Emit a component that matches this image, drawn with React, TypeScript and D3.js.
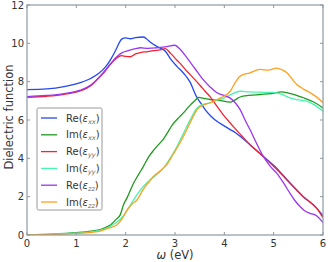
import { useEffect, useRef } from 'react';
import * as d3 from 'd3';

const W = 328;
const H = 262;
const M = { left: 27, right: 5, top: 5, bottom: 27 };

type Pt = [number, number];

// ω (eV) vs value
const reXX: Pt[] = [
  [0, 7.58], [0.4, 7.62], [0.75, 7.74], [1.08, 7.95], [1.3, 8.18], [1.45, 8.42], [1.6, 8.8],
  [1.7, 9.18], [1.8, 9.65], [1.92, 10.22], [2.0, 10.28], [2.1, 10.24], [2.2, 10.3], [2.36, 10.33],
  [2.46, 10.15], [2.56, 9.95], [2.7, 9.75], [2.8, 9.6], [2.92, 9.15], [3.04, 8.8], [3.17, 8.45],
  [3.3, 8.0], [3.44, 7.2], [3.53, 6.85], [3.61, 6.54], [3.73, 6.2], [3.85, 5.93], [3.98, 5.72],
  [4.12, 5.5], [4.22, 5.35], [4.32, 5.15], [4.52, 4.71], [4.79, 4.1], [5.06, 3.49], [5.33, 2.71],
  [5.6, 2.0], [5.87, 1.4], [6.0, 1.0],
];
const imXX: Pt[] = [
  [0, 0.02], [0.5, 0.05], [1.0, 0.12], [1.3, 0.2], [1.5, 0.3], [1.6, 0.4], [1.69, 0.52],
  [1.8, 0.8], [1.89, 1.05], [1.96, 1.6], [2.03, 1.95], [2.16, 2.7], [2.26, 3.15], [2.36, 3.58],
  [2.46, 4.05], [2.56, 4.4], [2.66, 4.7], [2.77, 5.02], [2.85, 5.35], [2.94, 5.72], [3.05, 6.05],
  [3.17, 6.37], [3.3, 6.75], [3.4, 7.0], [3.48, 7.18], [3.6, 7.12], [3.71, 7.07], [3.9, 7.02],
  [4.12, 6.93], [4.22, 7.05], [4.32, 7.2], [4.5, 7.28], [4.72, 7.33], [4.95, 7.38], [5.16, 7.47],
  [5.3, 7.4], [5.45, 7.3], [5.6, 7.16], [5.8, 6.95], [6.0, 6.63],
];
const reYY: Pt[] = [
  [0, 7.18], [0.4, 7.24], [0.75, 7.34], [1.08, 7.52], [1.3, 7.8], [1.42, 8.1], [1.55, 8.45],
  [1.69, 8.9], [1.8, 9.2], [1.92, 9.36], [2.0, 9.32], [2.09, 9.3], [2.2, 9.45], [2.3, 9.52],
  [2.45, 9.57], [2.56, 9.62], [2.7, 9.66], [2.8, 9.72], [2.92, 9.45], [3.04, 9.12], [3.14, 8.85],
  [3.24, 8.55], [3.37, 8.2], [3.51, 7.8], [3.61, 7.5], [3.71, 7.22], [3.85, 6.72], [4.0, 6.2],
  [4.18, 5.67], [4.35, 5.18], [4.52, 4.71], [4.72, 4.25], [4.93, 3.75], [5.13, 3.25], [5.33, 2.71],
  [5.6, 2.0], [5.87, 1.4], [6.0, 0.9],
];
const imYY: Pt[] = [
  [0, 0.01], [0.5, 0.04], [1.0, 0.1], [1.3, 0.16], [1.5, 0.25], [1.65, 0.4], [1.79, 0.61],
  [1.9, 0.85], [1.99, 1.13], [2.08, 1.5], [2.16, 1.83], [2.3, 2.35], [2.4, 2.65], [2.5, 2.88],
  [2.63, 3.15], [2.77, 3.5], [2.9, 4.0], [3.04, 4.62], [3.17, 5.3], [3.31, 6.02], [3.44, 6.6],
  [3.57, 6.82], [3.71, 6.9], [3.85, 7.03], [4.0, 7.15], [4.15, 7.35], [4.32, 7.5], [4.5, 7.47],
  [4.72, 7.45], [4.9, 7.44], [5.06, 7.42], [5.2, 7.3], [5.33, 7.16], [5.5, 7.05], [5.67, 6.98],
  [5.85, 6.75], [6.0, 6.46],
];
const reZZ: Pt[] = [
  [0, 7.22], [0.4, 7.28], [0.75, 7.38], [1.08, 7.56], [1.3, 7.84], [1.42, 8.12], [1.55, 8.48],
  [1.69, 8.92], [1.8, 9.25], [1.92, 9.5], [2.05, 9.62], [2.2, 9.72], [2.3, 9.77], [2.45, 9.74],
  [2.63, 9.77], [2.8, 9.82], [3.0, 9.9], [3.1, 9.7], [3.24, 9.25], [3.4, 8.7], [3.58, 8.08],
  [3.72, 7.7], [3.85, 7.42], [4.0, 7.28], [4.12, 7.14], [4.22, 6.9], [4.32, 6.54], [4.42, 6.0],
  [4.52, 5.5], [4.65, 4.8], [4.79, 4.1], [4.92, 3.62], [5.06, 3.23], [5.2, 2.72], [5.33, 2.18],
  [5.43, 1.8], [5.53, 1.5], [5.62, 1.28], [5.75, 1.12], [5.87, 1.0], [5.95, 0.8], [6.0, 0.65],
];
const imZZ: Pt[] = [
  [0, 0.01], [0.5, 0.03], [1.0, 0.08], [1.3, 0.14], [1.5, 0.22], [1.65, 0.36], [1.82, 0.52],
  [1.93, 0.85], [2.03, 1.31], [2.13, 1.62], [2.23, 1.83], [2.35, 2.35], [2.45, 2.7], [2.56, 3.05],
  [2.7, 3.35], [2.83, 3.66], [2.96, 4.2], [3.1, 4.8], [3.24, 5.5], [3.37, 6.19], [3.45, 6.55],
  [3.58, 6.78], [3.72, 6.9], [3.85, 7.07], [4.0, 7.25], [4.12, 7.5], [4.22, 7.95], [4.32, 8.29],
  [4.52, 8.46], [4.72, 8.64], [4.89, 8.6], [5.06, 8.71], [5.17, 8.62], [5.27, 8.46], [5.37, 8.15],
  [5.47, 7.85], [5.6, 7.62], [5.74, 7.42], [5.88, 7.18], [6.0, 6.9],
];

const seriesNames = ['Re', 'Im', 'Re', 'Im', 'Re', 'Im'];
const seriesSubs = ['xx', 'xx', 'yy', 'yy', 'zz', 'zz'];
const seriesData = [reXX, imXX, reYY, imYY, reZZ, imZZ];
const seriesColors = ['#2548f0', '#1f9a1f', '#f5222f', '#45f5b0', '#9a35f0', '#ffa01e'];

const xTicks = [0, 1, 2, 3, 4, 5, 6];
const yTicks = [0, 2, 4, 6, 8, 10, 12];

export default function App() {
  const svgRef = useRef<SVGSVGElement>(null);

  useEffect(() => {
    if (!svgRef.current) return;
    const svg = d3.select(svgRef.current);
    svg.selectAll('*').remove();

    const x = d3.scaleLinear().domain([0, 6]).range([M.left, W - M.right]);
    const y = d3.scaleLinear().domain([0, 12]).range([H - M.bottom, M.top]);
    const font = 'DejaVu Sans, sans-serif';
    const frame = '#8d9aa2';

    // clip so lines stay in the axes box
    svg.append('defs').append('clipPath').attr('id', 'plotclip')
      .append('rect')
      .attr('x', M.left).attr('y', M.top)
      .attr('width', W - M.left - M.right).attr('height', H - M.top - M.bottom);

    const line = d3.line<Pt>()
      .x(d => x(d[0]))
      .y(d => y(d[1]))
      .curve(d3.curveMonotoneX);

    const linesG = svg.append('g').attr('clip-path', 'url(#plotclip)');
    seriesData.forEach((data, i) => {
      linesG.append('path')
        .attr('d', line(data) ?? '')
        .attr('fill', 'none')
        .attr('stroke', seriesColors[i])
        .attr('stroke-width', 1.3)
        .attr('stroke-linejoin', 'round');
    });

    // frame
    svg.append('rect')
      .attr('x', M.left).attr('y', M.top)
      .attr('width', W - M.left - M.right).attr('height', H - M.top - M.bottom)
      .attr('fill', 'none').attr('stroke', frame).attr('stroke-width', 1.2);

    // inward ticks on all four sides
    const tk = 3;
    const tickG = svg.append('g').attr('stroke', frame).attr('stroke-width', 1);
    xTicks.forEach(t => {
      tickG.append('line').attr('x1', x(t)).attr('x2', x(t)).attr('y1', y(0)).attr('y2', y(0) - tk);
      tickG.append('line').attr('x1', x(t)).attr('x2', x(t)).attr('y1', y(12)).attr('y2', y(12) + tk);
    });
    yTicks.forEach(t => {
      tickG.append('line').attr('y1', y(t)).attr('y2', y(t)).attr('x1', x(0)).attr('x2', x(0) + tk);
      tickG.append('line').attr('y1', y(t)).attr('y2', y(t)).attr('x1', x(6)).attr('x2', x(6) - tk);
    });

    const labelG = svg.append('g').attr('font-family', font).attr('font-size', 10).attr('fill', '#333');
    xTicks.forEach(t => {
      labelG.append('text').attr('x', x(t)).attr('y', y(0) + 12)
        .attr('text-anchor', 'middle').text(String(t));
    });
    yTicks.forEach(t => {
      labelG.append('text').attr('x', x(0) - 3).attr('y', y(t) + 3.5)
        .attr('text-anchor', 'end').text(String(t));
    });

    // axis titles
    svg.append('text')
      .attr('x', (x(0) + x(6)) / 2).attr('y', H - 3)
      .attr('text-anchor', 'middle')
      .attr('font-family', font).attr('font-size', 11.5).attr('fill', '#333')
      .call(s => {
        s.append('tspan').attr('font-style', 'italic').text('ω');
        s.append('tspan').text(' (eV)');
      });
    svg.append('text')
      .attr('transform', `translate(13, ${(y(0) + y(12)) / 2 - 3}) rotate(-90)`)
      .attr('text-anchor', 'middle')
      .attr('font-family', font).attr('font-size', 11.5).attr('fill', '#333')
      .text('Dielectric function');

    // legend
    const lg = svg.append('g');
    lg.append('rect')
      .attr('x', 37).attr('y', 108).attr('width', 65).attr('height', 102)
      .attr('rx', 1.5)
      .attr('fill', '#fff').attr('stroke', '#999').attr('stroke-width', 1);
    seriesData.forEach((_, i) => {
      const yy = 118 + i * 16.8;
      lg.append('line')
        .attr('x1', 41).attr('x2', 57).attr('y1', yy).attr('y2', yy)
        .attr('stroke', seriesColors[i]).attr('stroke-width', 1.3);
      const t = lg.append('text')
        .attr('x', 66).attr('y', yy + 3.5)
        .attr('font-family', font).attr('font-size', 10).attr('fill', '#333');
      t.append('tspan').text(`${seriesNames[i]}(`);
      t.append('tspan').attr('font-style', 'italic').text('ε');
      t.append('tspan').attr('font-style', 'italic').attr('font-size', 6.5)
        .attr('dy', 2).attr('fill', '#666').text(seriesSubs[i]);
      t.append('tspan').attr('dy', -2).text(')');
    });
  }, []);

  return (
    <svg
      ref={svgRef}
      width={W}
      height={H}
      style={{ position: 'absolute', left: 0, top: 0, background: '#fff' }}
    />
  );
}
